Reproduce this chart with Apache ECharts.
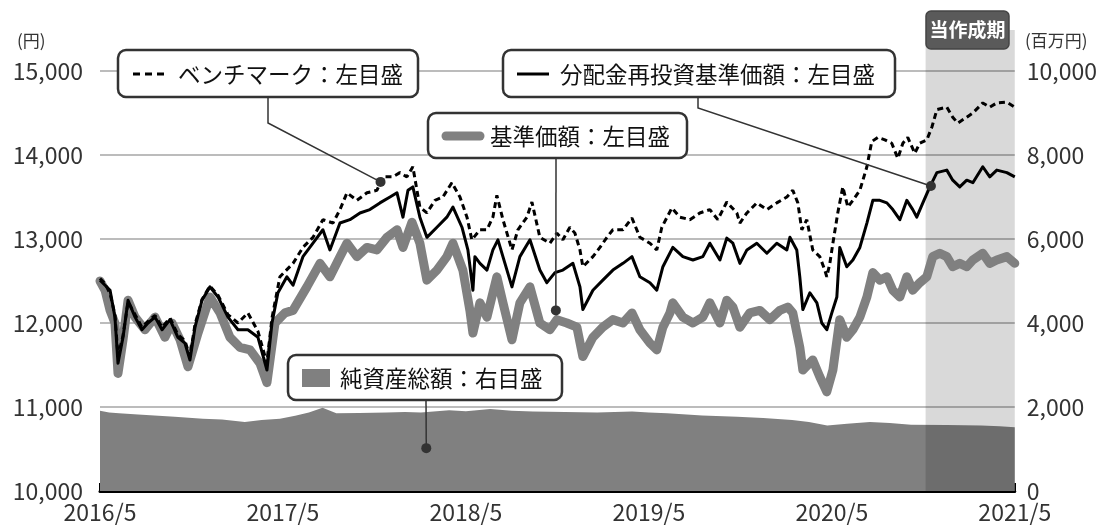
<!DOCTYPE html>
<html><head><meta charset="utf-8">
<script src="https://cdn.jsdelivr.net/npm/echarts@6/dist/echarts.min.js"></script>
<style>html,body{margin:0;padding:0;background:#fff}#c{width:1100px;height:527px}</style>
</head><body><div id="c"></div>
<script>
// x values are months since 2016/5
const xTickLabels = ['2016/5','2017/5','2018/5','2019/5','2020/5','2021/5'];
const leftTicks = [10000, 11000, 12000, 13000, 14000, 15000];
const rightTicks = [0, 2000, 4000, 6000, 8000, 10000];

const nav = [[0,12500],[0.33,12390],[0.66,12150],[0.98,12000],[1.18,11400],[1.51,11800],[1.84,12270],[2.30,12070],[2.95,11920],[3.61,12070],[4.26,11830],[4.72,12000],[5.25,11800],[5.77,11480],[6.43,11880],[7.21,12310],[7.87,12120],[8.52,11830],[9.18,11710],[9.84,11680],[10.49,11520],[10.95,11290],[11.48,12000],[12.13,12120],[12.66,12150],[13.57,12430],[14.43,12710],[15.08,12550],[15.74,12790],[16.20,12950],[16.85,12790],[17.51,12900],[18.16,12870],[18.82,13020],[19.48,13110],[19.87,12900],[20.46,13200],[20.98,12950],[21.44,12510],[22.10,12630],[22.75,12790],[23.15,12950],[23.80,12630],[24.26,12150],[24.46,11880],[24.92,12240],[25.38,12070],[26.03,12550],[26.43,12240],[27.02,11800],[27.54,12240],[28.20,12430],[28.85,12000],[29.51,11920],[29.97,12040],[30.62,12000],[31.28,11950],[31.67,11600],[32.33,11830],[32.98,11950],[33.64,12040],[34.30,12000],[34.89,12120],[35.41,11920],[36.07,11760],[36.52,11680],[36.92,11950],[37.38,12120],[37.57,12240],[38.23,12070],[38.89,12000],[39.54,12070],[40.0,12240],[40.66,12000],[41.11,12270],[41.51,12190],[41.97,11950],[42.62,12120],[43.28,12150],[43.93,12040],[44.59,12150],[45.11,12190],[45.44,12120],[45.90,11710],[46.10,11440],[46.75,11560],[47.21,11360],[47.67,11180],[48.07,11440],[48.52,12040],[48.98,11830],[49.38,11920],[49.84,12070],[50.30,12310],[50.69,12600],[51.15,12510],[51.61,12550],[52.0,12390],[52.46,12310],[52.92,12550],[53.31,12390],[53.77,12480],[54.23,12550],[54.62,12790],[55.08,12830],[55.54,12790],[55.93,12670],[56.39,12710],[56.85,12670],[57.25,12750],[57.90,12830],[58.36,12710],[58.82,12750],[59.48,12790],[60,12710]];

const reinvested = [[0,12510],[0.33,12450],[0.66,12390],[0.98,12070],[1.18,11520],[1.51,11830],[1.84,12270],[2.30,12070],[2.75,11920],[3.15,12000],[3.61,12070],[4.07,11920],[4.59,12040],[5.11,11830],[5.57,11760],[5.90,11560],[6.23,11950],[6.69,12270],[7.21,12430],[7.74,12310],[8.39,12070],[9.05,11920],[9.70,11920],[10.36,11830],[10.95,11440],[11.28,12000],[11.67,12360],[12.26,12550],[12.66,12450],[13.31,12790],[13.97,12950],[14.62,13110],[15.08,12870],[15.74,13190],[16.39,13230],[17.05,13310],[17.70,13350],[18.36,13430],[19.02,13500],[19.48,13550],[19.87,13260],[20.20,13580],[20.52,13620],[20.98,13260],[21.44,13020],[22.10,13140],[22.75,13260],[23.15,13380],[23.74,13140],[24.13,12870],[24.46,12390],[24.59,12790],[24.92,12710],[25.38,12630],[25.77,12870],[26.10,12990],[26.56,12710],[27.02,12430],[27.54,12790],[28.20,12990],[28.85,12630],[29.31,12480],[29.84,12600],[30.36,12630],[31.02,12710],[31.48,12430],[31.67,12160],[32.33,12390],[32.98,12510],[33.64,12630],[34.30,12710],[34.89,12790],[35.41,12550],[36.07,12480],[36.52,12390],[36.92,12670],[37.57,12900],[38.23,12790],[38.89,12750],[39.54,12790],[40.0,12950],[40.66,12750],[41.11,13010],[41.51,12950],[41.97,12710],[42.43,12870],[43.08,12950],[43.74,12830],[44.39,12950],[45.05,12870],[45.25,13020],[45.70,12870],[45.90,12550],[46.10,12160],[46.56,12360],[47.02,12240],[47.34,12000],[47.67,11920],[48.0,12120],[48.33,12310],[48.52,12900],[48.98,12670],[49.38,12750],[49.84,12900],[50.30,13190],[50.69,13460],[51.15,13460],[51.61,13430],[52.0,13350],[52.46,13230],[52.92,13460],[53.31,13350],[53.57,13260],[53.97,13430],[54.43,13620],[54.89,13790],[55.54,13820],[55.93,13700],[56.39,13620],[56.85,13700],[57.25,13670],[57.90,13860],[58.36,13740],[58.82,13820],[59.48,13790],[60,13740]];

const benchmark = [[0,12530],[0.33,12470],[0.66,12350],[0.98,12100],[1.18,11600],[1.51,11850],[1.84,12250],[2.30,12100],[2.75,11950],[3.15,12020],[3.61,12090],[4.07,11950],[4.59,12060],[5.11,11860],[5.57,11790],[5.90,11600],[6.23,11980],[6.69,12280],[7.21,12440],[7.74,12330],[8.39,12100],[9.05,12000],[9.70,12120],[10.36,11900],[10.95,11520],[11.28,12060],[11.80,12550],[12.66,12710],[13.31,12900],[13.97,13020],[14.62,13230],[15.28,13190],[15.74,13350],[16.20,13550],[16.85,13460],[17.51,13550],[18.16,13580],[18.56,13740],[19.21,13740],[19.67,13790],[20.13,13740],[20.52,13860],[20.98,13380],[21.44,13310],[21.97,13460],[22.49,13500],[23.08,13670],[23.61,13500],[24.07,13260],[24.39,12990],[24.92,13110],[25.38,13110],[25.77,13260],[26.03,13520],[26.43,13230],[27.02,12870],[27.41,13110],[28.0,13260],[28.33,13440],[28.85,13020],[29.51,12950],[29.97,13070],[30.36,12990],[30.82,13140],[31.15,13070],[31.48,12870],[31.67,12670],[32.33,12790],[32.79,12900],[33.25,13020],[33.64,13110],[34.30,13110],[34.89,13250],[35.41,13020],[36.07,12950],[36.52,12870],[36.85,13140],[37.51,13370],[38.03,13260],[38.69,13230],[39.34,13310],[40.0,13350],[40.52,13230],[41.11,13440],[41.77,13310],[41.97,13190],[42.43,13310],[43.08,13430],[43.74,13350],[44.39,13430],[45.05,13500],[45.44,13580],[45.77,13430],[46.03,13110],[46.36,13230],[46.75,12870],[47.21,12790],[47.54,12630],[47.67,12550],[47.87,12710],[48.07,12950],[48.39,13310],[48.72,13620],[49.05,13380],[49.38,13460],[49.84,13580],[50.30,13860],[50.62,14160],[51.02,14210],[51.48,14180],[51.93,14140],[52.33,13960],[52.66,14140],[52.98,14210],[53.44,14020],[53.77,14140],[54.23,14180],[54.56,14330],[54.89,14540],[55.54,14570],[55.93,14450],[56.26,14380],[56.85,14450],[57.25,14500],[57.90,14620],[58.36,14570],[58.82,14620],[59.48,14630],[60,14570]];

const netAssets = [[0,1910],[0.6,1870],[1.25,1850],[2.5,1820],[4.9,1770],[6.75,1720],[8.0,1700],[9.5,1640],[10.6,1690],[11.8,1720],[12.8,1790],[13.7,1870],[14.6,1980],[15.5,1850],[17.0,1860],[18.8,1870],[20.0,1880],[21.05,1870],[22.9,1920],[24.0,1900],[25.6,1950],[27.0,1910],[28.4,1890],[30.5,1880],[32.6,1870],[34.9,1890],[36.0,1870],[37.2,1850],[39.5,1800],[41.8,1770],[43.5,1740],[45.4,1690],[46.5,1640],[47.7,1560],[49.0,1600],[50.5,1640],[51.8,1620],[53.2,1580],[55.5,1570],[57.8,1560],[59.0,1540],[60,1520]];

const shadeStartMonth = 54.15;
const FONT = '"Noto Sans CJK JP", "Noto Sans", sans-serif';

const chart = echarts.init(document.getElementById('c'), null, {renderer: 'canvas'});
const fmtNum = v => String(v).replace(/\B(?=(\d{3})+(?!\d))/g, ',');

const option = {
  animation: false,
  backgroundColor: '#fff',
  grid: {left: 100, right: 85, top: 71, bottom: 36, containLabel: false},
  xAxis: {
    type: 'value', min: 0, max: 60, interval: 12,
    axisLine: {show: true, onZero: false, lineStyle: {color: '#000', width: 3}},
    axisTick: {show: true, inside: true, length: 8, lineStyle: {color: '#000', width: 2}},
    axisLabel: {formatter: v => xTickLabels[Math.round(v / 12)], fontSize: 23, color: '#333', fontFamily: FONT, margin: 10},
    splitLine: {show: false}
  },
  yAxis: [
    {type: 'value', min: leftTicks[0], max: leftTicks[leftTicks.length-1], interval: 1000, position: 'left',
     axisLine: {show: false}, axisTick: {show: false},
     axisLabel: {formatter: v => fmtNum(v), fontSize: 23, color: '#333', fontFamily: FONT, margin: 17},
     splitLine: {show: true, lineStyle: {color: '#a6a6a6', width: 1.5}}},
    {type: 'value', min: rightTicks[0], max: rightTicks[rightTicks.length-1], interval: 2000, position: 'right',
     axisLine: {show: false}, axisTick: {show: false},
     axisLabel: {formatter: v => fmtNum(v), fontSize: 23, color: '#333', fontFamily: FONT, margin: 12},
     splitLine: {show: false}}
  ],
  series: [
    {name: '純資産総額', type: 'line', yAxisIndex: 1, data: netAssets, symbol: 'none', z: 1,
     lineStyle: {width: 0}, areaStyle: {color: '#808080', opacity: 1}, itemStyle: {color: '#808080'}},
    {name: '基準価額', type: 'line', yAxisIndex: 0, data: nav, symbol: 'none', z: 3,
     lineStyle: {color: '#808080', width: 9, cap: 'round', join: 'round'}},
    {name: '分配金再投資基準価額', type: 'line', yAxisIndex: 0, data: reinvested, symbol: 'none', z: 4,
     lineStyle: {color: '#000', width: 3, join: 'round'}},
    {name: 'ベンチマーク', type: 'line', yAxisIndex: 0, data: benchmark, symbol: 'none', z: 5,
     lineStyle: {color: '#000', width: 3, type: [6, 4]}}
  ]
};
chart.setOption(option);

// annotation anchors (data coordinates)
const leftPx = (m, v) => chart.convertToPixel({seriesIndex: 1}, [m, v]);
const rightPx = (m, v) => chart.convertToPixel({seriesIndex: 0}, [m, v]);

const bandL = leftPx(shadeStartMonth, 10000);
const bandR = leftPx(60, 10000);
const dBench = leftPx(18.4, 13680);
const dReinv = leftPx(54.5, 13630);
const dNav = leftPx(29.9, 12150);
const dAssets = rightPx(21.4, 1020);

const lineS = {stroke: '#333', lineWidth: 1.5};
function box(x, y, w, h) {
  return {type: 'rect', shape: {x, y, width: w, height: h, r: 8}, style: {fill: '#fff', stroke: '#333', lineWidth: 2.5}, z: 20};
}
function txt(x, y, s, extra) {
  return {type: 'text', x, y, style: Object.assign({text: s, fill: '#111', font: '22.5px ' + FONT, textVerticalAlign: 'middle', verticalAlign: 'middle'}, extra || {}), z: 21};
}
function dot(p) { return {type: 'circle', shape: {cx: p[0], cy: p[1], r: 5}, style: {fill: '#333'}, z: 19}; }

const graphics = [
  // current period band
  {type: 'rect', shape: {x: bandL[0], y: 30, width: bandR[0] - bandL[0], height: bandL[1] - 30}, style: {fill: 'rgba(0,0,0,0.15)'}, z: 2, silent: true},
  {type: 'rect', shape: {x: 926, y: 11, width: 83, height: 38, r: 5}, style: {fill: '#5a5a5a', stroke: '#444', lineWidth: 1.5}, z: 20},
  txt(967.5, 30, '当作成期', {fill: '#fff', font: 'bold 19px ' + FONT, align: 'center', textAlign: 'center'}),
  // units
  txt(17, 41, '(円)', {font: '17px ' + FONT, fill: '#333'}),
  txt(1025, 41, '(百万円)', {font: '17px ' + FONT, fill: '#333'}),
  // leaders
  {type: 'polyline', shape: {points: [[268, 97], [268, 123], dBench]}, style: Object.assign({fill: null}, lineS), z: 18},
  {type: 'polyline', shape: {points: [[698, 97], [698, 108], dReinv]}, style: Object.assign({fill: null}, lineS), z: 18},
  {type: 'polyline', shape: {points: [[556, 158], dNav]}, style: Object.assign({fill: null}, lineS), z: 18},
  {type: 'polyline', shape: {points: [[426, 400], dAssets]}, style: Object.assign({fill: null}, lineS), z: 18},
  dot(dBench), dot(dReinv), dot(dNav), dot(dAssets),
  // box 1: benchmark
  box(118, 50, 300, 47),
  {type: 'line', shape: {x1: 133, y1: 74, x2: 167, y2: 74}, style: {stroke: '#000', lineWidth: 3, lineDash: [7, 5]}, z: 21},
  txt(178, 74, 'ベンチマーク：左目盛'),
  // box 2: reinvested
  box(503, 50, 392, 47),
  {type: 'line', shape: {x1: 517, y1: 74, x2: 549, y2: 74}, style: {stroke: '#000', lineWidth: 3}, z: 21},
  txt(560, 74, '分配金再投資基準価額：左目盛'),
  // box 3: nav
  box(428, 113, 259, 45),
  {type: 'line', shape: {x1: 446, y1: 136, x2: 480, y2: 136}, style: {stroke: '#808080', lineWidth: 9, lineCap: 'round'}, z: 21},
  txt(490, 136, '基準価額：左目盛'),
  // box 4: net assets
  box(288, 355, 274, 45),
  {type: 'rect', shape: {x: 302, y: 369, width: 28, height: 18}, style: {fill: '#808080'}, z: 21},
  txt(340, 378, '純資産総額：右目盛')
];
chart.setOption({graphic: {elements: graphics}});
</script>
</body></html>
